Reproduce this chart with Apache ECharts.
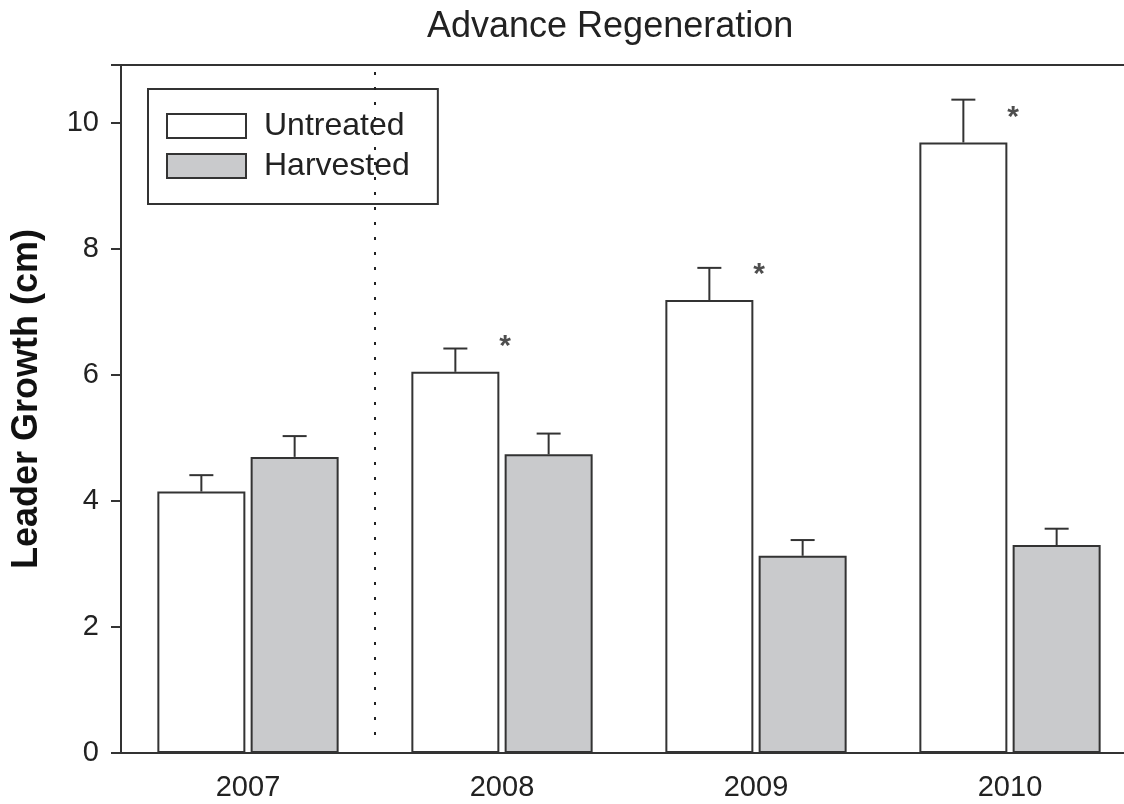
<!DOCTYPE html>
<html>
<head>
<meta charset="utf-8">
<script src="https://cdn.jsdelivr.net/npm/echarts@6/dist/echarts.min.js"></script>
<style>
html,body{margin:0;padding:0;background:#fff;overflow:hidden;}
#chart{width:1140px;height:804px;}
</style>
</head>
<body>
<div id="chart"></div>
<script>
// ---- data ----
const categories = ['2007', '2008', '2009', '2010'];
const untreated = [4.15, 6.05, 7.19, 9.69];
const untreatedErr = [0.26, 0.37, 0.51, 0.68];
const harvested = [4.70, 4.74, 3.13, 3.30];
const harvestedErr = [0.33, 0.33, 0.25, 0.26];
const significant = ['', '*', '*', '*'];
const yMin = 0, yMax = 10.92, yInterval = 2;
const dividerAfterIndex = 0;

// ---- style constants ----
const FONT = "'Liberation Sans', Arial, Helvetica, sans-serif";
const INK = '#333';
const TEXT = '#222';
const BAR_W = 88;
const BAR_GAP = 0.06;
const HALF_OFF = BAR_W * (1 + BAR_GAP) / 2;
const CAP = 12;

function errRender(offset) {
  return function (params, api) {
    const i = api.value(0), v = api.value(1), e = api.value(2);
    const p0 = api.coord([i, v]);
    const p1 = api.coord([i, v + e]);
    const x = p0[0] + offset;
    const st = { stroke: INK, lineWidth: 2 };
    return {
      type: 'group',
      children: [
        { type: 'line', shape: { x1: x, y1: p0[1], x2: x, y2: p1[1] }, style: st },
        { type: 'line', shape: { x1: x - CAP, y1: p1[1], x2: x + CAP, y2: p1[1] }, style: st }
      ]
    };
  };
}

const chart = echarts.init(document.getElementById('chart'), null, { renderer: 'canvas' });
const option = {
  animation: false,
  backgroundColor: '#fff',
  textStyle: { fontFamily: FONT },
  title: {
    text: 'Advance Regeneration',
    left: 427, top: 9, padding: 0,
    textStyle: { fontFamily: FONT, fontSize: 36, fontWeight: 'normal', color: TEXT }
  },
  legend: {
    orient: 'vertical',
    left: 148, top: 89,
    padding: [21, 28, 22, 18],
    itemWidth: 79, itemHeight: 24, itemGap: 8,
    borderColor: INK, borderWidth: 2,
    icon: 'rect',
    data: ['Untreated', 'Harvested'],
    textStyle: { fontFamily: FONT, fontSize: 32, color: TEXT, padding: [0, 0, 0, 13] }
  },
  grid: {
    left: 121, top: 65, width: 1016, bottom: 51,
    show: true, borderColor: INK, borderWidth: 2, backgroundColor: 'transparent'
  },
  xAxis: {
    type: 'category',
    data: categories,
    axisLine: { lineStyle: { color: INK, width: 2 } },
    axisTick: { alignWithLabel: true, length: 12, lineStyle: { color: INK, width: 2 } },
    axisLabel: { fontFamily: FONT, fontSize: 29, color: TEXT, margin: 20 },
    splitLine: { show: false }
  },
  yAxis: {
    type: 'value',
    min: yMin, max: yMax, interval: yInterval,
    name: 'Leader Growth (cm)',
    nameLocation: 'middle',
    nameGap: 76,
    nameTextStyle: { fontFamily: FONT, fontSize: 36, fontWeight: 'bold', color: '#111', padding: [0, 0, 0, 20] },
    axisLine: { show: true, lineStyle: { color: INK, width: 2 } },
    axisTick: { show: true, length: 10, lineStyle: { color: INK, width: 2 } },
    axisLabel: {
      fontFamily: FONT, fontSize: 29, color: TEXT, margin: 22,
      formatter: function (v) { return (Math.abs(v / yInterval - Math.round(v / yInterval)) < 1e-9) ? String(v) : ''; }
    },
    splitLine: { show: false }
  },
  series: [
    {
      name: 'Untreated', type: 'bar', data: untreated,
      barWidth: BAR_W, barGap: (BAR_GAP * 100) + '%',
      itemStyle: { color: '#ffffff', borderColor: INK, borderWidth: 2 }
    },
    {
      name: 'Harvested', type: 'bar', data: harvested,
      barWidth: BAR_W,
      itemStyle: { color: '#c9cacc', borderColor: INK, borderWidth: 2 }
    },
    {
      name: 'errU', type: 'custom', z: 5,
      renderItem: errRender(-HALF_OFF),
      encode: { x: 0, y: [1, 2] },
      data: categories.map((c, i) => [i, untreated[i], untreatedErr[i]])
    },
    {
      name: 'errH', type: 'custom', z: 5,
      renderItem: errRender(HALF_OFF),
      encode: { x: 0, y: [1, 2] },
      data: categories.map((c, i) => [i, harvested[i], harvestedErr[i]])
    },
    {
      name: 'sig', type: 'scatter', z: 6,
      symbolSize: 1,
      itemStyle: { color: 'rgba(0,0,0,0)' },
      data: categories.map((c, i) => significant[i] ? { value: [i, untreated[i]], mark: significant[i] } : '-'),
      label: {
        show: true, position: 'inside', offset: [3, -25],
        formatter: function (p) { return p.data.mark; },
        fontFamily: FONT, fontSize: 30, fontWeight: 'bold', color: '#222'
      }
    },
    {
      name: 'divider', type: 'custom', z: 4,
      renderItem: function (params, api) {
        const i = api.value(0);
        const c = api.coord([i, 0]);
        const x = c[0] + api.size([1, 0])[0] / 2;
        const cs = params.coordSys;
        return {
          type: 'line',
          shape: { x1: x, y1: cs.y + 7, x2: x, y2: cs.y + cs.height - 14 },
          style: { stroke: '#222', lineWidth: 2, lineDash: [3, 12] }
        };
      },
      encode: { x: 0, y: 1 },
      data: [[dividerAfterIndex, 0]]
    }
  ]
};
chart.setOption(option);
</script>
</body>
</html>
